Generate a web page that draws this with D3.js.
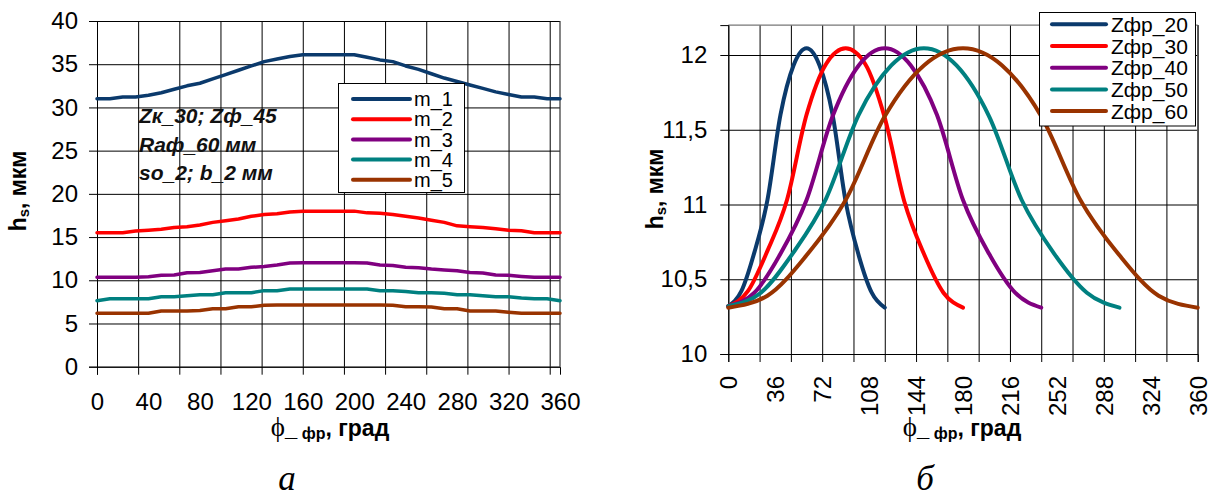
<!DOCTYPE html>
<html><head><meta charset="utf-8">
<script src="https://cdn.jsdelivr.net/npm/d3@7"></script>
<style>
html,body{margin:0;padding:0;background:#fff;}
svg{display:block;font-family:"Liberation Sans",Arial,sans-serif;}
</style></head>
<body>
<svg id="c" width="1219" height="501"></svg>
<script>
// ---------- DATA: left chart (a) ----------
const phiA = [0,10,20,30,40,50,60,70,80,90,100,110,120,130,140,150,160,170,180,190,200,210,220,230,240,250,260,270,280,290,300,310,320,330,340,350,360];
const m1 = [31.0,31.0,31.2,31.2,31.4,31.7,32.1,32.5,32.8,33.3,33.8,34.3,34.8,35.3,35.6,35.9,36.1,36.1,36.1,36.1,36.1,35.8,35.5,35.3,34.8,34.4,33.9,33.4,33.0,32.6,32.2,31.8,31.5,31.2,31.2,31.0,31.0];
const m2 = [15.5,15.5,15.5,15.7,15.8,15.9,16.1,16.2,16.4,16.7,16.9,17.1,17.4,17.6,17.7,17.9,18.0,18.0,18.0,18.0,18.0,17.8,17.75,17.6,17.4,17.2,16.95,16.7,16.3,16.2,16.1,15.97,15.8,15.74,15.5,15.5,15.5];
const m3 = [10.35,10.35,10.35,10.35,10.4,10.58,10.6,10.88,10.9,11.1,11.3,11.3,11.5,11.6,11.77,12.0,12.04,12.04,12.04,12.04,12.04,12.0,11.77,11.7,11.5,11.45,11.3,11.2,11.1,10.9,10.85,10.6,10.58,10.45,10.35,10.35,10.35];
const m4 = [7.64,7.87,7.87,7.87,7.87,8.1,8.1,8.2,8.33,8.33,8.56,8.56,8.56,8.8,8.8,9.0,9.0,9.0,9.0,9.0,9.0,9.0,8.8,8.8,8.7,8.56,8.56,8.5,8.33,8.33,8.2,8.1,8.1,7.95,7.87,7.87,7.64];
const m5 = [6.18,6.18,6.18,6.18,6.18,6.45,6.45,6.45,6.5,6.71,6.71,6.94,6.94,7.1,7.14,7.14,7.14,7.14,7.14,7.14,7.14,7.14,7.14,7.1,6.94,6.94,6.9,6.71,6.71,6.45,6.45,6.45,6.3,6.18,6.18,6.18,6.18];
const seriesA = ["m_1","m_2","m_3","m_4","m_5"];
const xTicksA = [0,40,80,120,160,200,240,280,320,360];
const xGridA = [0,32,64,96,128,160,192,224,256,288,320,352];
const yTicksA = [0,5,10,15,20,25,30,35,40];
const noteA = ["Zк_30; Zф_45","Raф_60 мм","so_2; b_2 мм"];

// ---------- DATA: right chart (б) ----------
const z20x = [0,10,20,30,40,50,60,70,80,90,100,110,120];
const z20y = [10.32,10.42,10.68,11.03,11.6,11.93,12.045,11.93,11.6,11.02,10.66,10.41,10.31];
const z30x = [0,15,30,45,60,75,90,105,120,135,150,165,180];
const z30y = [10.32,10.42,10.69,11.03,11.6,11.94,12.045,11.94,11.58,11.02,10.67,10.41,10.31];
const z40x = [0,20,40,60,80,100,120,140,160,180,200,220,240];
const z40y = [10.32,10.41,10.67,11.03,11.59,11.93,12.045,11.93,11.6,11.03,10.67,10.41,10.31];
const z50x = [0,25,50,75,100,125,150,175,200,225,250,275,300];
const z50y = [10.32,10.41,10.68,11.04,11.6,11.93,12.045,11.93,11.59,11.03,10.67,10.41,10.31];
const z60x = [0,30,60,90,120,150,180,210,240,270,300,330,360];
const z60y = [10.31,10.39,10.66,11.03,11.59,11.93,12.045,11.93,11.59,11.03,10.66,10.39,10.31];
const seriesB = ["Zфр_20","Zфр_30","Zфр_40","Zфр_50","Zфр_60"];
const xTicksB = [0,36,72,108,144,180,216,252,288,324,360];
const xGridB = [0,24,48,72,96,120,144,168,192,216,240,264,288,312,336,360];
const yTicksB = [10,10.5,11,11.5,12];
const yLabelsB = ["10","10,5","11","11,5","12"];

const colors = ["#0b3a6c","#ff0000","#800080","#008080","#993300"];

// ---------- DRAW ----------
const svg = d3.select("#c");
svg.append("rect").attr("width",1219).attr("height",501).attr("fill","#fff");

function xTitle(g, cx, cy){
  const t = g.append("text").attr("x",cx).attr("y",cy).attr("text-anchor","middle").attr("fill","#000");
  t.append("tspan").text("ϕ").attr("font-family","'Liberation Serif','DejaVu Serif',serif").attr("font-size",27);
  t.append("tspan").text("_").attr("font-weight","bold").attr("font-size",22);
  t.append("tspan").text(" фр").attr("font-weight","bold").attr("font-size",16).attr("dy",3);
  t.append("tspan").text(", град").attr("font-weight","bold").attr("font-size",23).attr("dy",-3);
}
function yTitle(g, x, cy){
  const t = g.append("text").attr("transform",`translate(${x},${cy}) rotate(-90)`).attr("text-anchor","middle")
    .attr("font-weight","bold").attr("font-size",23).attr("fill","#000");
  t.append("tspan").text("h");
  t.append("tspan").text("s").attr("font-size",15).attr("dy",3);
  t.append("tspan").text(", мкм").attr("dy",-3);
}

// ===== Left chart =====
{
  const x = d3.scaleLinear().domain([0,360]).range([97,560]);
  const y = d3.scaleLinear().domain([0,40]).range([366.7,21]);
  const g = svg.append("g");
  g.append("g").attr("transform","translate(0,366.7)")
    .call(d3.axisBottom(x).tickValues(xGridA).tickSize(-(366.7-21)).tickFormat(""))
    .call(s=>{s.select(".domain").remove(); s.selectAll("line").attr("stroke","#000").attr("stroke-width",1);});
  g.append("g").attr("transform","translate(97,0)")
    .call(d3.axisLeft(y).tickValues(yTicksA).tickSize(-(560-97)).tickFormat(""))
    .call(s=>{s.select(".domain").remove(); s.selectAll("line").attr("stroke","#000").attr("stroke-width",1);});
  g.append("line").attr("x1",x(360)).attr("x2",x(360)).attr("y1",y(40)).attr("y2",y(0)).attr("stroke","#333").attr("stroke-width",1.2);
  g.append("g").attr("transform","translate(0,366.7)")
    .call(d3.axisBottom(x).tickValues(xGridA).tickSize(8).tickFormat(""))
    .call(s=>{s.select(".domain").attr("stroke","#000"); s.selectAll("line").attr("stroke","#000");});
  g.append("g").attr("transform","translate(97,0)")
    .call(d3.axisLeft(y).tickValues(yTicksA).tickSize(8).tickFormat(""))
    .call(s=>{s.select(".domain").attr("stroke","#000"); s.selectAll("line").attr("stroke","#000");});
  g.append("g").attr("transform","translate(0,366.7)")
    .call(d3.axisBottom(x).tickValues(xTicksA).tickSize(0).tickFormat(d3.format("d")))
    .call(s=>{s.select(".domain").remove(); s.selectAll("text").attr("y",43.5).attr("dy",0)
      .attr("font-size",24).attr("fill","#000").attr("font-family","'Liberation Sans',Arial,sans-serif");});
  g.append("g").attr("transform","translate(97,0)")
    .call(d3.axisLeft(y).tickValues(yTicksA).tickSize(0).tickPadding(19).tickFormat(d3.format("d")))
    .call(s=>{s.select(".domain").remove(); s.selectAll("text").attr("font-size",24).attr("fill","#000")
      .attr("font-family","'Liberation Sans',Arial,sans-serif");});
  const data = [m1,m2,m3,m4,m5];
  const line = d3.line().x((d,i)=>x(phiA[i])).y(d=>y(d));
  data.forEach((arr,i)=>{
    g.append("path").attr("d",line(arr)).attr("fill","none").attr("stroke",colors[i])
      .attr("stroke-width",3.5).attr("stroke-linejoin","round").attr("stroke-linecap","round");
  });
  noteA.forEach((t,i)=>{
    g.append("text").attr("x",139).attr("y",123.3+i*28.4).text(t)
      .attr("font-weight","bold").attr("font-style","italic").attr("font-size",21).attr("fill","#111");
  });
  const lg = g.append("g");
  lg.append("rect").attr("x",338.5).attr("y",83.5).attr("width",126).attr("height",109).attr("fill","#fff").attr("stroke","#000");
  seriesA.forEach((n,i)=>{
    const yy = 99 + i*20.2;
    lg.append("line").attr("x1",353).attr("x2",410).attr("y1",yy).attr("y2",yy).attr("stroke",colors[i]).attr("stroke-width",4).attr("stroke-linecap","round");
    lg.append("text").attr("x",414).attr("y",yy).attr("dy","0.36em").text(n).attr("font-size",20).attr("fill","#000");
  });
  xTitle(g, 330, 436);
  yTitle(g, 26, 191);
  g.append("text").attr("x",287).attr("y",490).attr("text-anchor","middle").text("а")
    .attr("font-family","'Liberation Serif','DejaVu Serif',serif").attr("font-style","italic").attr("font-size",35).attr("fill","#000");
}

// ===== Right chart =====
{
  const x = d3.scaleLinear().domain([0,360]).range([728.3,1197.7]);
  const y = d3.scaleLinear().domain([10,12.2]).range([354,25.1]);
  const g = svg.append("g");
  g.append("g").attr("transform","translate(0,354)")
    .call(d3.axisBottom(x).tickValues(xGridB).tickSize(-(354-25.1)).tickFormat(""))
    .call(s=>{s.select(".domain").remove(); s.selectAll("line").attr("stroke","#000").attr("stroke-width",1);});
  g.append("g").attr("transform","translate(728.3,0)")
    .call(d3.axisLeft(y).tickValues(yTicksB).tickSize(-(1197.7-728.3)).tickFormat(""))
    .call(s=>{s.select(".domain").remove(); s.selectAll("line").attr("stroke","#000").attr("stroke-width",1);});
  g.append("line").attr("x1",x(0)).attr("x2",x(360)).attr("y1",y(12.2)).attr("y2",y(12.2)).attr("stroke","#777").attr("stroke-width",1.2);
  g.append("line").attr("x1",x(360)).attr("x2",x(360)).attr("y1",y(12.2)).attr("y2",y(10)).attr("stroke","#555").attr("stroke-width",1.2);
  g.append("g").attr("transform","translate(0,354)")
    .call(d3.axisBottom(x).tickValues(xGridB).tickSize(8).tickFormat(""))
    .call(s=>{s.select(".domain").attr("stroke","#000"); s.selectAll("line").attr("stroke","#000");});
  g.append("g").attr("transform","translate(728.3,0)")
    .call(d3.axisLeft(y).tickValues(yTicksB).tickSize(8).tickFormat(""))
    .call(s=>{s.select(".domain").attr("stroke","#000"); s.selectAll("line").attr("stroke","#000");});
  g.append("g").attr("transform","translate(0,354)")
    .call(d3.axisBottom(x).tickValues(xTicksB).tickSize(0).tickFormat(d3.format("d")))
    .call(s=>{s.select(".domain").remove(); s.selectAll("text").attr("transform","rotate(-90)")
      .attr("x",-22).attr("y",0).attr("dy","0.35em").attr("text-anchor","end")
      .attr("font-size",24).attr("fill","#000").attr("font-family","'Liberation Sans',Arial,sans-serif");});
  g.append("g").attr("transform","translate(728.3,0)")
    .call(d3.axisLeft(y).tickValues(yTicksB).tickSize(0).tickPadding(21).tickFormat((d,i)=>yLabelsB[i]))
    .call(s=>{s.select(".domain").remove(); s.selectAll("text").attr("font-size",24).attr("fill","#000")
      .attr("font-family","'Liberation Sans',Arial,sans-serif");});
  const xs = [z20x,z30x,z40x,z50x,z60x], ys = [z20y,z30y,z40y,z50y,z60y];
  xs.forEach((xa,i)=>{
    const line = d3.line().x((d,j)=>x(xa[j])).y(d=>y(d)).curve(d3.curveMonotoneX);
    g.append("path").attr("d",line(ys[i])).attr("fill","none").attr("stroke",colors[i])
      .attr("stroke-width",4).attr("stroke-linecap","round");
  });
  const lg = g.append("g");
  lg.append("rect").attr("x",1039.5).attr("y",12.5).attr("width",156).attr("height",113.5).attr("fill","#fff").attr("stroke","#000");
  seriesB.forEach((n,i)=>{
    const yy = 24.3 + i*21.7;
    lg.append("line").attr("x1",1052).attr("x2",1106).attr("y1",yy).attr("y2",yy).attr("stroke",colors[i]).attr("stroke-width",4).attr("stroke-linecap","round");
    lg.append("text").attr("x",1111).attr("y",yy).attr("dy","0.36em").text(n).attr("font-size",21).attr("fill","#000");
  });
  xTitle(g, 962, 436);
  yTitle(g, 663, 189);
  g.append("text").attr("x",925).attr("y",490).attr("text-anchor","middle").text("б")
    .attr("font-family","'Liberation Serif','DejaVu Serif',serif").attr("font-style","italic").attr("font-size",35).attr("fill","#000");
}
</script>
</body></html>
